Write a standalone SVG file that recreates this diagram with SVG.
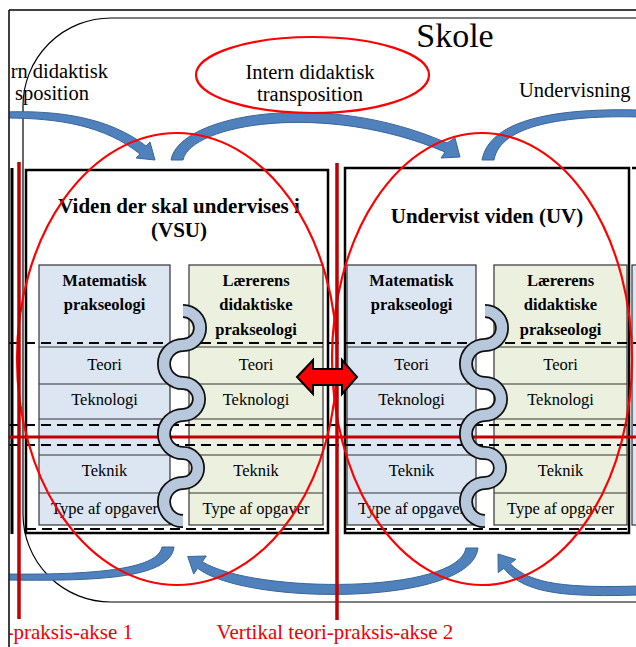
<svg xmlns="http://www.w3.org/2000/svg" width="636" height="647" viewBox="0 0 636 647">
<defs>
<style>
.t{font-family:"Liberation Serif","Times New Roman","DejaVu Serif",serif;fill:#000}
.h{font-size:21px;font-weight:bold;text-anchor:middle}
.s{font-size:16.5px;font-weight:bold;text-anchor:middle}
.r{font-size:16.5px;text-anchor:middle}
.big{font-size:20.5px}
.red{fill:#ee0000;font-size:21px}
.box{fill:#fff;stroke:#000;stroke-width:2.5}
.m{fill:#dce6f2;stroke:#333;stroke-width:1.2}
.g{fill:#ebf1de;stroke:#333;stroke-width:1.2}
.row{stroke:#333;stroke-width:1.2}
.dash{stroke:#000;stroke-width:2;stroke-dasharray:10 6;fill:none}
.ell{fill:none;stroke:#ff0000;stroke-width:2.2}
.axis{stroke:#c00000;stroke-width:3.5}
.arr{fill:#4f81bd;stroke:#3a6598;stroke-width:1}
.rib-o{fill:none;stroke:#111;stroke-width:14}
.rib-i{fill:none;stroke:#b7c8dc;stroke-width:10.5}
.dbl{fill:#ff0000;stroke:#000;stroke-width:2;stroke-linejoin:miter}
</style>
<clipPath id="c"><rect x="9.5" y="10.5" width="630" height="640"/></clipPath>
<path id="wave" d="M0 0 A17 17 0 0 1 0 34 A19 19 0 0 0 0 72 A16 16 0 0 1 0 104 A19 19 0 0 0 0 142 A15 15 0 0 1 0 172 A19 19 0 0 0 0 210"/>
</defs>
<rect x="0" y="0" width="636" height="647" fill="#fff"/>
<g clip-path="url(#c)" font-family="'Liberation Serif','Times New Roman',serif">
<g id="frame">
<rect id="skole" x="23" y="18" width="700" height="584" rx="88" ry="88" fill="none" stroke="#000" stroke-width="1.2"/>
<text class="t" x="455" y="47" font-size="34" text-anchor="middle">Skole</text>
</g>

<g id="node-left">
<line x1="12" y1="168" x2="12" y2="534" stroke="#000" stroke-width="3"/>
</g>

<g id="node-vsu">
<rect class="box" x="26" y="170" width="302" height="363"/>
<text class="t h" x="179" y="213">Viden der skal undervises i</text>
<text class="t h" x="179" y="237">(VSU)</text>
<rect class="m" x="39" y="265" width="131" height="260"/>
<rect class="g" x="189" y="265" width="134" height="260"/>
<g class="row">
<line x1="39" y1="347" x2="170" y2="347"/><line x1="39" y1="384" x2="170" y2="384"/><line x1="39" y1="419" x2="170" y2="419"/><line x1="39" y1="455" x2="170" y2="455"/><line x1="39" y1="493" x2="170" y2="493"/>
<line x1="189" y1="347" x2="323" y2="347"/><line x1="189" y1="384" x2="323" y2="384"/><line x1="189" y1="419" x2="323" y2="419"/><line x1="189" y1="455" x2="323" y2="455"/><line x1="189" y1="493" x2="323" y2="493"/>
</g>
<text class="t s" x="104.5" y="286">Matematisk</text>
<text class="t s" x="104.5" y="310">prakseologi</text>
<text class="t s" x="256" y="286">Lærerens</text>
<text class="t s" x="256" y="310">didaktiske</text>
<text class="t s" x="256" y="335">prakseologi</text>
<text class="t r" x="104.5" y="370">Teori</text>
<text class="t r" x="104.5" y="405">Teknologi</text>
<text class="t r" x="104.5" y="476">Teknik</text>
<text class="t r" x="104.5" y="514">Type af opgaver</text>
<text class="t r" x="256" y="370">Teori</text>
<text class="t r" x="256" y="405">Teknologi</text>
<text class="t r" x="256" y="476">Teknik</text>
<text class="t r" x="256" y="514">Type af opgaver</text>
<line class="dash" x1="26" y1="529" x2="328" y2="529"/>
</g>

<g id="node-uv">
<rect class="box" x="345" y="168" width="284" height="365"/>
<text class="t h" x="487" y="223">Undervist viden (UV)</text>
<rect class="m" x="347" y="265" width="129" height="260"/>
<rect class="g" x="494" y="265" width="133" height="260"/>
<g class="row">
<line x1="347" y1="347" x2="476" y2="347"/><line x1="347" y1="384" x2="476" y2="384"/><line x1="347" y1="419" x2="476" y2="419"/><line x1="347" y1="455" x2="476" y2="455"/><line x1="347" y1="493" x2="476" y2="493"/>
<line x1="494" y1="347" x2="627" y2="347"/><line x1="494" y1="384" x2="627" y2="384"/><line x1="494" y1="419" x2="627" y2="419"/><line x1="494" y1="455" x2="627" y2="455"/><line x1="494" y1="493" x2="627" y2="493"/>
</g>
<text class="t s" x="411.5" y="286">Matematisk</text>
<text class="t s" x="411.5" y="310">prakseologi</text>
<text class="t s" x="560.5" y="286">Lærerens</text>
<text class="t s" x="560.5" y="310">didaktiske</text>
<text class="t s" x="560.5" y="335">prakseologi</text>
<text class="t r" x="411.5" y="370">Teori</text>
<text class="t r" x="411.5" y="405">Teknologi</text>
<text class="t r" x="411.5" y="476">Teknik</text>
<text class="t r" x="411.5" y="514">Type af opgaver</text>
<text class="t r" x="560.5" y="370">Teori</text>
<text class="t r" x="560.5" y="405">Teknologi</text>
<text class="t r" x="560.5" y="476">Teknik</text>
<text class="t r" x="560.5" y="514">Type af opgaver</text>
<line class="dash" x1="345" y1="529" x2="629" y2="529"/>
</g>

<g id="node-right">
<rect class="m" x="632" y="265" width="12" height="260"/>
<line x1="632" y1="168" x2="640" y2="168" stroke="#000" stroke-width="2.5"/>
</g>

<g id="bands">
<line class="dash" x1="9" y1="343" x2="640" y2="343"/>
<line class="dash" x1="9" y1="425" x2="640" y2="425"/>
<line class="dash" x1="9" y1="445" x2="640" y2="445"/>
<line x1="9" y1="437" x2="640" y2="437" stroke="#c00000" stroke-width="3"/>
</g>

<g id="connectors">
<path class="arr" d="M5 112 C60 110 110 118 146 146 L150 142 L155 160 L136 158 L140 154 C105 126 60 118 5 118 Z"/>
<path class="arr" d="M171 160 C179 114 325 89 447 143 L455 138 L460 157 L441 158 L445 152 C325 101 191 124 183 160 Z"/>
<path class="arr" d="M482 160 C490 118 560 108 640 110 L640 117 C565 115 500 125 494 160 Z"/>
<path class="arr" d="M174 547 C170 580 90 581 5 580 L5 574 C90 575 158 570 162 547 Z"/>
<path class="arr" d="M478 548 C472 606 246 606 197.7 568.3 L193.7 574 L187.7 556.5 L206.3 556 L202.3 561.7 C254 594 458 594 466 548 Z"/>
<path class="arr" d="M640 586 C570 588 530 585 510.2 563.6 L515.8 559.4 L498 554 L498.2 572.6 L503.8 568.4 C525 595 570 597 640 595 Z"/>
<use href="#wave" class="rib-o" x="183" y="311"/>
<use href="#wave" class="rib-i" x="183" y="311"/>
<use href="#wave" class="rib-o" x="485" y="311"/>
<use href="#wave" class="rib-i" x="485" y="311"/>
</g>

<g id="labels-top">
<text class="t big" x="108" y="78" text-anchor="end">rn didaktisk</text>
<text class="t big" x="89" y="100" text-anchor="end">sposition</text>
<text class="t big" x="519" y="97">Undervisning</text>
</g>

<g id="node-transposition">
<ellipse class="ell" cx="312.5" cy="75" rx="116.5" ry="38"/>
<text class="t big" x="310" y="79" text-anchor="middle">Intern didaktisk</text>
<text class="t big" x="310" y="101" text-anchor="middle">transposition</text>
</g>

<g id="ellipses">
<ellipse class="ell" cx="177" cy="359" rx="160" ry="226"/>
<ellipse class="ell" cx="482" cy="359" rx="150" ry="226"/>
</g>

<g id="axes">
<line class="axis" x1="19" y1="162" x2="19" y2="619"/>
<line class="axis" x1="337" y1="163" x2="337" y2="620"/>
<text class="t red" x="133" y="639" text-anchor="end">-praksis-akse 1</text>
<text class="t red" x="335" y="639" text-anchor="middle">Vertikal teori-praksis-akse 2</text>
</g>

<g id="double-arrow">
<polygon class="dbl" points="297,377 313,360 313,369 342,369 342,360 357,377 342,394 342,385 313,385 313,394"/>
</g>
</g>
<g id="outer-frame" fill="none" stroke="#000" stroke-width="1.5">
<line x1="9" y1="10" x2="636" y2="10"/>
<line x1="9" y1="10" x2="9" y2="647"/>
</g>
</svg>
